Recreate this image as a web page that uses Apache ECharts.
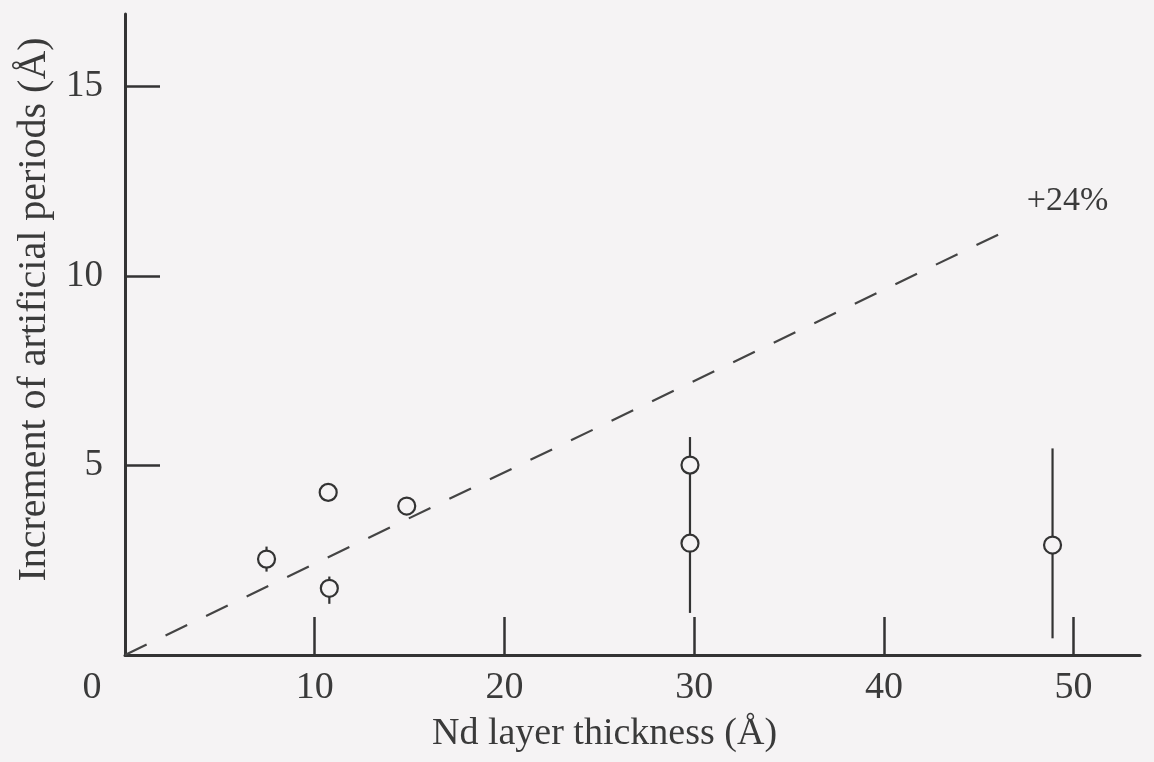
<!DOCTYPE html>
<html>
<head>
<meta charset="utf-8">
<script src="https://cdn.jsdelivr.net/npm/echarts@6/dist/echarts.min.js"></script>
<style>
html,body{margin:0;padding:0;background:#f5f3f4;}
#chart{width:1154px;height:762px;}
</style>
</head>
<body>
<div id="chart"></div>
<script>
// Data
const pointX = [7.46, 10.71, 10.77, 14.85, 29.78, 29.78, 48.89];
const pointY = [2.53, 4.29, 1.76, 3.93, 5.01, 2.95, 2.90];
const errX = [7.46, 10.77, 29.78, 48.89];
const errLow = [2.20, 1.35, 1.11, 0.44];
const errHigh = [2.86, 2.07, 5.75, 5.45];
const fitX = [0, 46.9];
const fitY = [0, 11.3];
const fitLabel = '+24%';
const xLabelValues = [0, 10, 20, 30, 40, 50];
const xTickValues = [10, 20, 30, 40, 50];
const yTickValues = [5, 10, 15];
const xName = 'Nd layer thickness (Å)';
const yName = 'Increment of artificial periods (Å)';

const ink = '#333333';
const textInk = '#3a3a3a';
const font = '"Liberation Serif", "Times New Roman", serif';
const bg = '#f5f3f4';

const chart = echarts.init(document.getElementById('chart'), null, {renderer: 'canvas'});
chart.setOption({
  backgroundColor: bg,
  animation: false,
  grid: {left: 125, right: 14, top: 14, bottom: 107, containLabel: false},
  xAxis: {
    type: 'value', min: 0, max: 53.5,
    name: xName, nameLocation: 'middle', nameGap: 60,
    nameTextStyle: {fontFamily: font, fontSize: 38, color: textInk, padding: [0, 56, 0, 0]},
    axisLine: {show: true, lineStyle: {color: ink, width: 3}},
    axisTick: {show: true, inside: true, length: 38, customValues: xTickValues, lineStyle: {color: ink, width: 2.5}},
    axisLabel: {
      customValues: xLabelValues, margin: 14,
      fontFamily: font, fontSize: 38, color: textInk,
      formatter: v => v === 0 ? '{z|0}' : String(v),
      rich: {z: {fontFamily: font, fontSize: 38, color: textInk, padding: [0, 66, 0, 0]}}
    },
    splitLine: {show: false}
  },
  yAxis: {
    type: 'value', min: 0, max: 16.91,
    name: yName, nameLocation: 'middle', nameGap: 71, nameRotate: 90,
    nameTextStyle: {fontFamily: font, fontSize: 40, color: textInk, padding: [0, 0, 0, 50]},
    axisLine: {show: true, lineStyle: {color: ink, width: 3}},
    axisTick: {show: true, inside: true, length: 35, customValues: yTickValues, lineStyle: {color: ink, width: 2.5}},
    axisLabel: {customValues: yTickValues, margin: 22, fontFamily: font, fontSize: 37, color: textInk},
    splitLine: {show: false}
  },
  series: [
    {
      type: 'line',
      data: fitX.map((x, i) => [x, fitY[i]]),
      showSymbol: false, symbol: 'none',
      lineStyle: {color: '#444444', width: 2.2, type: [24, 21]},
      endLabel: {show: true, formatter: fitLabel, fontFamily: font, fontSize: 34, color: textInk, distance: 12, offset: [0, -26]},
      z: 2
    },
    {
      type: 'custom',
      data: errX.map((x, i) => [x, errLow[i], errHigh[i]]),
      renderItem: function (params, api) {
        const p1 = api.coord([api.value(0), api.value(1)]);
        const p2 = api.coord([api.value(0), api.value(2)]);
        return {type: 'line', shape: {x1: p1[0], y1: p1[1], x2: p2[0], y2: p2[1]}, style: {stroke: ink, lineWidth: 2.2}};
      },
      z: 3
    },
    {
      type: 'scatter',
      data: pointX.map((x, i) => [x, pointY[i]]),
      symbol: 'circle', symbolSize: 17,
      itemStyle: {color: bg, borderColor: ink, borderWidth: 2.2, opacity: 1},
      z: 4
    }
  ]
});
</script>
</body>
</html>
